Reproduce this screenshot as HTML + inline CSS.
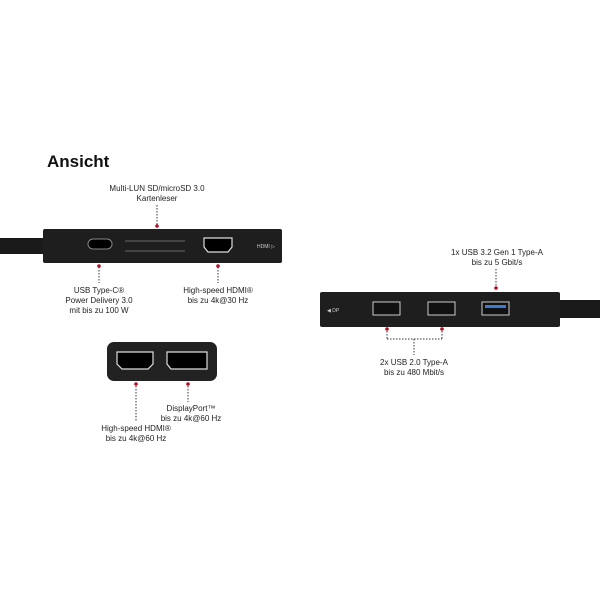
<!DOCTYPE html>
<html><head><meta charset="utf-8"><style>
body{margin:0;background:#fff;}
svg{display:block;font-family:"Liberation Sans",sans-serif;}
</style></head><body>
<svg width="600" height="600" viewBox="0 0 600 600">
<text x="47" y="167" font-size="17" font-weight="bold" fill="#111">Ansicht</text>
<g font-size="8" fill="#222" text-anchor="middle">
<text x="157" y="191">Multi-LUN SD/microSD 3.0</text>
<text x="157" y="201">Kartenleser</text>
<text x="99" y="293">USB Type-C®</text>
<text x="99" y="303">Power Delivery 3.0</text>
<text x="99" y="313">mit bis zu 100 W</text>
<text x="218" y="293">High-speed HDMI®</text>
<text x="218" y="303">bis zu 4k@30 Hz</text>
<text x="497" y="255">1x USB 3.2 Gen 1 Type-A</text>
<text x="497" y="265">bis zu 5 Gbit/s</text>
<text x="414" y="365">2x USB 2.0 Type-A</text>
<text x="414" y="375">bis zu 480 Mbit/s</text>
<text x="191" y="411">DisplayPort™</text>
<text x="191" y="421">bis zu 4k@60 Hz</text>
<text x="136" y="431">High-speed HDMI®</text>
<text x="136" y="441">bis zu 4k@60 Hz</text>
</g>
<rect x="0" y="238" width="45" height="16" fill="#1a1a1a"/>
<rect x="43" y="229" width="239" height="34" rx="2" fill="#1e1e1e"/>
<rect x="88" y="239" width="24" height="10" rx="5" fill="#000" stroke="#888" stroke-width="1"/>
<rect x="125" y="240" width="60" height="2" fill="#444"/>
<rect x="125" y="250" width="60" height="2" fill="#444"/>
<path d="M204 238 h28 v9 l-4 5 h-20 l-4 -5 z" fill="#000" stroke="#ddd" stroke-width="1.2"/>
<text x="257" y="248" font-size="5" fill="#ccc">HDMI ▷</text>
<g stroke="#333" stroke-dasharray="1.5,1.5" stroke-width="1"><line x1="157" y1="205" x2="157" y2="225"/><line x1="99" y1="267" x2="99" y2="283"/><line x1="218" y1="267" x2="218" y2="283"/>
<line x1="387" y1="331" x2="387" y2="339"/><line x1="442" y1="331" x2="442" y2="339"/><line x1="387" y1="339" x2="442" y2="339"/><line x1="414" y1="339" x2="414" y2="355"/>
<line x1="496" y1="269" x2="496" y2="288"/><line x1="136" y1="386" x2="136" y2="422"/><line x1="188" y1="386" x2="188" y2="402"/></g>
<g fill="#b0102a"><circle cx="157" cy="226" r="1.8"/><circle cx="99" cy="266" r="1.8"/><circle cx="218" cy="266" r="1.8"/><circle cx="496" cy="288" r="1.8"/><circle cx="387" cy="329" r="1.8"/><circle cx="442" cy="329" r="1.8"/><circle cx="136" cy="384" r="1.8"/><circle cx="188" cy="384" r="1.8"/></g>
<rect x="555" y="300" width="45" height="18" fill="#1a1a1a"/>
<rect x="320" y="292" width="240" height="35" rx="2" fill="#1e1e1e"/>
<text x="327" y="312" font-size="5" fill="#ccc">◀ DP</text>
<rect x="373" y="302" width="27" height="13" fill="#111" stroke="#ccc" stroke-width="1"/>
<rect x="428" y="302" width="27" height="13" fill="#111" stroke="#ccc" stroke-width="1"/>
<rect x="482" y="302" width="27" height="13" fill="#111" stroke="#ccc" stroke-width="1"/>
<rect x="485" y="305" width="21" height="3" fill="#3a7bd5"/>
<rect x="107" y="342" width="110" height="39" rx="7" fill="#222"/>
<path d="M117 352 h36 v12 l-5 5 h-26 l-5 -5 z" fill="#000" stroke="#ddd" stroke-width="1.2"/>
<path d="M167 352 h40 v17 h-36 l-4 -5 z" fill="#000" stroke="#ddd" stroke-width="1.2"/>
</svg>
</body></html>
